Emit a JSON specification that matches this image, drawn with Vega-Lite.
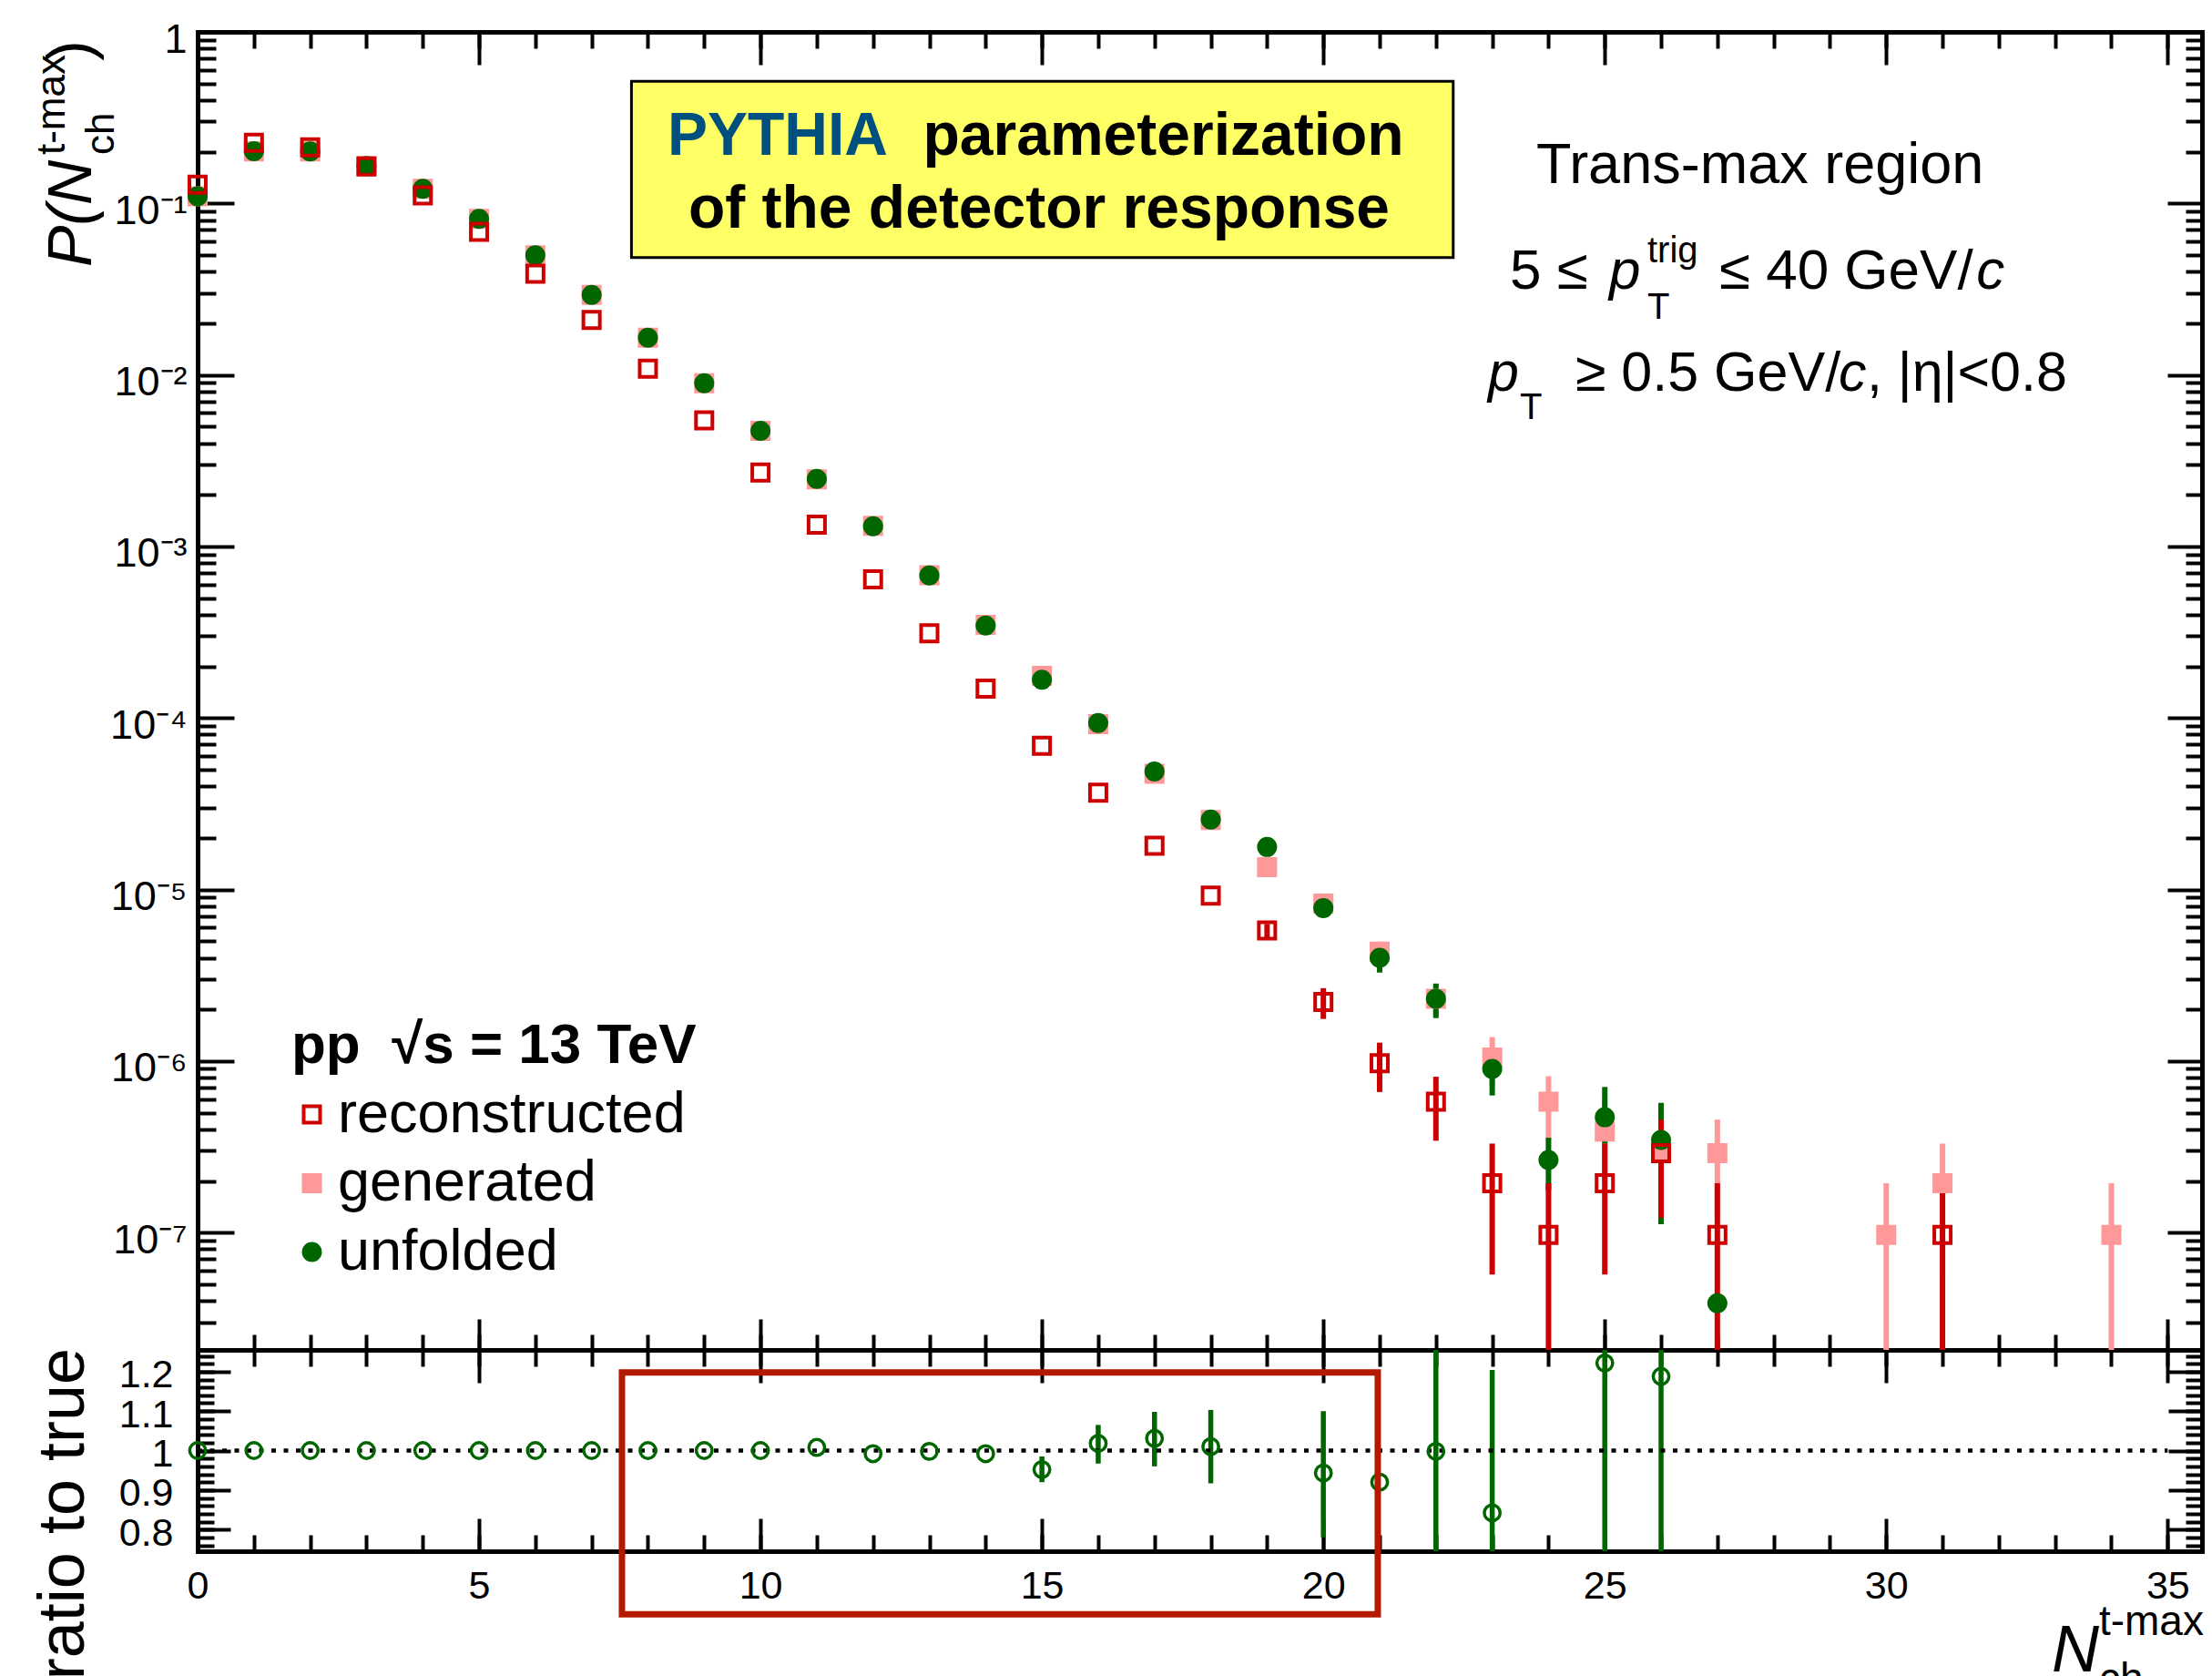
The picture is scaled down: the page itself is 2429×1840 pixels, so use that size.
{
  "$schema": "https://vega.github.io/schema/vega-lite/v6.json",
  "width": 2201,
  "height": 1668,
  "autosize": {"type": "none"},
  "padding": {"left": 217, "top": 35, "right": 11, "bottom": 137},
  "background": "white",
  "config": {
    "view": {"stroke": null},
    "axis": {"grid": false, "domainColor": "black", "domainWidth": 5, "domainCap": "square", "tickColor": "black", "tickWidth": 4, "labelColor": "black", "labelFont": "Liberation Sans", "labelFontSize": 43},
    "text": {"font": "Liberation Sans", "color": "black"}
  },
  "datasets": {
    "dist": [
      {"n": 0, "series": "generated", "p": 0.110},
      {"n": 1, "series": "generated", "p": 0.201},
      {"n": 2, "series": "generated", "p": 0.201},
      {"n": 3, "series": "generated", "p": 0.1654},
      {"n": 4, "series": "generated", "p": 0.1218},
      {"n": 5, "series": "generated", "p": 0.0813},
      {"n": 6, "series": "generated", "p": 0.0498},
      {"n": 7, "series": "generated", "p": 0.0293},
      {"n": 8, "series": "generated", "p": 0.0165},
      {"n": 9, "series": "generated", "p": 0.00895},
      {"n": 10, "series": "generated", "p": 0.00472},
      {"n": 11, "series": "generated", "p": 0.00246},
      {"n": 12, "series": "generated", "p": 0.00132},
      {"n": 13, "series": "generated", "p": 0.000679},
      {"n": 14, "series": "generated", "p": 0.000349},
      {"n": 15, "series": "generated", "p": 0.000176},
      {"n": 16, "series": "generated", "p": 0.000092},
      {"n": 17, "series": "generated", "p": 0.0000473},
      {"n": 18, "series": "generated", "p": 0.0000254},
      {"n": 19, "series": "generated", "p": 1.35e-5, "lo": 1.24e-5, "hi": 1.46e-5},
      {"n": 20, "series": "generated", "p": 8.27e-6, "lo": 7.4e-6, "hi": 9.15e-6},
      {"n": 21, "series": "generated", "p": 4.35e-6, "lo": 3.72e-6, "hi": 4.97e-6},
      {"n": 22, "series": "generated", "p": 2.31e-6, "lo": 1.84e-6, "hi": 2.78e-6},
      {"n": 23, "series": "generated", "p": 1.05e-6, "lo": 7.3e-7, "hi": 1.38e-6},
      {"n": 24, "series": "generated", "p": 5.8e-7, "lo": 3.45e-7, "hi": 8.15e-7},
      {"n": 25, "series": "generated", "p": 3.88e-7, "lo": 1.94e-7, "hi": 5.82e-7},
      {"n": 26, "series": "generated", "p": 2.9e-7, "lo": 1.22e-7, "hi": 4.56e-7},
      {"n": 27, "series": "generated", "p": 2.9e-7, "lo": 1.22e-7, "hi": 4.56e-7},
      {"n": 30, "series": "generated", "p": 9.7e-8, "lo": 1e-9, "hi": 1.94e-7},
      {"n": 31, "series": "generated", "p": 1.94e-7, "lo": 5.7e-8, "hi": 3.3e-7},
      {"n": 34, "series": "generated", "p": 9.7e-8, "lo": 1e-9, "hi": 1.94e-7},
      {"n": 0, "series": "unfolded", "p": 0.110},
      {"n": 1, "series": "unfolded", "p": 0.2013},
      {"n": 2, "series": "unfolded", "p": 0.201},
      {"n": 3, "series": "unfolded", "p": 0.1654},
      {"n": 4, "series": "unfolded", "p": 0.1218},
      {"n": 5, "series": "unfolded", "p": 0.0813},
      {"n": 6, "series": "unfolded", "p": 0.0498},
      {"n": 7, "series": "unfolded", "p": 0.0293},
      {"n": 8, "series": "unfolded", "p": 0.0165},
      {"n": 9, "series": "unfolded", "p": 0.00895},
      {"n": 10, "series": "unfolded", "p": 0.00472},
      {"n": 11, "series": "unfolded", "p": 0.00248},
      {"n": 12, "series": "unfolded", "p": 0.001312},
      {"n": 13, "series": "unfolded", "p": 0.000678},
      {"n": 14, "series": "unfolded", "p": 0.000346},
      {"n": 15, "series": "unfolded", "p": 0.000167},
      {"n": 16, "series": "unfolded", "p": 0.0000935},
      {"n": 17, "series": "unfolded", "p": 0.0000487},
      {"n": 18, "series": "unfolded", "p": 0.0000256},
      {"n": 19, "series": "unfolded", "p": 1.77e-5},
      {"n": 20, "series": "unfolded", "p": 7.8e-6, "lo": 6.9e-6, "hi": 8.7e-6},
      {"n": 21, "series": "unfolded", "p": 4.0e-6, "lo": 3.28e-6, "hi": 4.68e-6},
      {"n": 22, "series": "unfolded", "p": 2.31e-6, "lo": 1.78e-6, "hi": 2.83e-6},
      {"n": 23, "series": "unfolded", "p": 9.0e-7, "lo": 6.3e-7, "hi": 1.15e-6},
      {"n": 24, "series": "unfolded", "p": 2.65e-7, "lo": 1.77e-7, "hi": 3.57e-7},
      {"n": 25, "series": "unfolded", "p": 4.7e-7, "lo": 3.3e-7, "hi": 7.06e-7},
      {"n": 26, "series": "unfolded", "p": 3.47e-7, "lo": 1.12e-7, "hi": 5.7e-7},
      {"n": 27, "series": "unfolded", "p": 3.87e-8},
      {"n": 0, "series": "reconstructed", "p": 0.1285},
      {"n": 1, "series": "reconstructed", "p": 0.2256},
      {"n": 2, "series": "reconstructed", "p": 0.2123},
      {"n": 3, "series": "reconstructed", "p": 0.164},
      {"n": 4, "series": "reconstructed", "p": 0.1114},
      {"n": 5, "series": "reconstructed", "p": 0.0683},
      {"n": 6, "series": "reconstructed", "p": 0.0389},
      {"n": 7, "series": "reconstructed", "p": 0.0209},
      {"n": 8, "series": "reconstructed", "p": 0.01088},
      {"n": 9, "series": "reconstructed", "p": 0.00543},
      {"n": 10, "series": "reconstructed", "p": 0.0027},
      {"n": 11, "series": "reconstructed", "p": 0.00134},
      {"n": 12, "series": "reconstructed", "p": 0.000644},
      {"n": 13, "series": "reconstructed", "p": 0.000312},
      {"n": 14, "series": "reconstructed", "p": 0.0001485},
      {"n": 15, "series": "reconstructed", "p": 0.0000689},
      {"n": 16, "series": "reconstructed", "p": 0.0000367},
      {"n": 17, "series": "reconstructed", "p": 0.000018},
      {"n": 18, "series": "reconstructed", "p": 9.22e-6},
      {"n": 19, "series": "reconstructed", "p": 5.78e-6, "lo": 5.25e-6, "hi": 6.3e-6},
      {"n": 20, "series": "reconstructed", "p": 2.21e-6, "lo": 1.76e-6, "hi": 2.66e-6},
      {"n": 21, "series": "reconstructed", "p": 9.7e-7, "lo": 6.6e-7, "hi": 1.28e-6},
      {"n": 22, "series": "reconstructed", "p": 5.8e-7, "lo": 3.43e-7, "hi": 8.1e-7},
      {"n": 23, "series": "reconstructed", "p": 1.94e-7, "lo": 5.7e-8, "hi": 3.3e-7},
      {"n": 24, "series": "reconstructed", "p": 9.7e-8, "lo": 1e-9, "hi": 1.94e-7},
      {"n": 25, "series": "reconstructed", "p": 1.94e-7, "lo": 5.7e-8, "hi": 3.3e-7},
      {"n": 26, "series": "reconstructed", "p": 2.9e-7, "lo": 1.22e-7, "hi": 4.56e-7},
      {"n": 27, "series": "reconstructed", "p": 9.7e-8, "lo": 1e-9, "hi": 1.94e-7},
      {"n": 31, "series": "reconstructed", "p": 9.7e-8, "lo": 1e-9, "hi": 1.94e-7}
    ],
    "ratio": [
      {"n": 0, "r": 1.0}, {"n": 1, "r": 1.0}, {"n": 2, "r": 1.0}, {"n": 3, "r": 1.0},
      {"n": 4, "r": 1.0}, {"n": 5, "r": 1.0}, {"n": 6, "r": 1.0}, {"n": 7, "r": 1.0},
      {"n": 8, "r": 1.0}, {"n": 9, "r": 1.0}, {"n": 10, "r": 1.0}, {"n": 11, "r": 1.008},
      {"n": 12, "r": 0.992}, {"n": 13, "r": 0.998}, {"n": 14, "r": 0.992},
      {"n": 15, "r": 0.952, "lo": 0.92, "hi": 0.985},
      {"n": 16, "r": 1.018, "lo": 0.967, "hi": 1.065},
      {"n": 17, "r": 1.031, "lo": 0.96, "hi": 1.098},
      {"n": 18, "r": 1.01, "lo": 0.917, "hi": 1.103},
      {"n": 20, "r": 0.943, "lo": 0.78, "hi": 1.1},
      {"n": 21, "r": 0.92},
      {"n": 22, "r": 0.998, "lo": 0.7, "hi": 1.3},
      {"n": 23, "r": 0.842, "lo": 0.48, "hi": 1.204},
      {"n": 25, "r": 1.222, "lo": 0.62, "hi": 1.82},
      {"n": 26, "r": 1.188, "lo": 0.39, "hi": 1.99}
    ]
  },
  "resolve": {"scale": {"y": "independent"}, "axis": {"x": "independent", "y": "independent"}},
  "layer": [
    {
      "data": {"name": "dist"},
      "transform": [{"filter": "datum.series === 'generated' && isValid(datum.lo)"}],
      "mark": {"type": "rule", "color": "#ff9999", "strokeWidth": 6},
      "encoding": {
        "x": {"field": "n", "type": "quantitative", "scale": {"type": "linear", "domain": [0, 35.61], "nice": false, "zero": false},
              "axis": {"orient": "bottom", "values": [0, 5, 10, 15, 20, 25, 30, 35], "tickSize": -36, "labels": false, "domain": true, "title": null}},
        "y": {"field": "lo", "type": "quantitative", "scale": {"type": "log", "domain": [2.07e-8, 1], "range": [1447, 0], "clamp": true, "nice": false},
              "axis": {"orient": "left", "values": [1e-7, 1e-6, 1e-5, 1e-4, 0.001, 0.01, 0.1, 1], "tickSize": -40, "labels": false, "domain": true, "title": null}},
        "y2": {"field": "hi"}
      }
    },
    {
      "data": {"name": "dist"},
      "transform": [{"filter": "datum.series === 'unfolded' && isValid(datum.lo)"}],
      "mark": {"type": "rule", "color": "#006600", "strokeWidth": 6},
      "encoding": {
        "x": {"field": "n", "type": "quantitative", "scale": {"type": "linear", "domain": [0, 35.61], "nice": false, "zero": false},
              "axis": {"orient": "bottom", "values": [0,1,2,3,4,5,6,7,8,9,10,11,12,13,14,15,16,17,18,19,20,21,22,23,24,25,26,27,28,29,30,31,32,33,34,35], "tickSize": -18, "labels": false, "domain": false, "title": null}},
        "y": {"field": "lo", "type": "quantitative", "scale": {"type": "log", "domain": [2.07e-8, 1], "range": [1447, 0], "clamp": true, "nice": false},
              "axis": {"orient": "left", "values": [3e-8,4e-8,5e-8,6e-8,7e-8,8e-8,9e-8,2e-7,3e-7,4e-7,5e-7,6e-7,7e-7,8e-7,9e-7,2e-6,3e-6,4e-6,5e-6,6e-6,7e-6,8e-6,9e-6,2e-5,3e-5,4e-5,5e-5,6e-5,7e-5,8e-5,9e-5,2e-4,3e-4,4e-4,5e-4,6e-4,7e-4,8e-4,9e-4,0.002,0.003,0.004,0.005,0.006,0.007,0.008,0.009,0.02,0.03,0.04,0.05,0.06,0.07,0.08,0.09,0.2,0.3,0.4,0.5,0.6,0.7,0.8,0.9], "tickSize": -20, "labels": false, "domain": false, "title": null}},
        "y2": {"field": "hi"}
      }
    },
    {
      "data": {"name": "dist"},
      "transform": [{"filter": "datum.series === 'reconstructed' && isValid(datum.lo)"}],
      "mark": {"type": "rule", "color": "#cc0000", "strokeWidth": 6},
      "encoding": {
        "x": {"field": "n", "type": "quantitative", "scale": {"type": "linear", "domain": [0, 35.61], "nice": false, "zero": false},
              "axis": {"orient": "bottom", "values": [0, 5, 10, 15, 20, 25, 30, 35], "ticks": false, "domain": false, "labelPadding": 17, "labelFlush": false, "labelOverlap": false, "title": null}},
        "y": {"field": "lo", "type": "quantitative", "scale": {"type": "log", "domain": [2.07e-8, 1], "range": [1447, 0], "clamp": true, "nice": false},
              "axis": {"orient": "left", "values": [1e-7, 1e-6, 1e-5, 1e-4, 0.001, 0.01, 0.1, 1], "ticks": false, "domain": false, "labelPadding": 12, "labelOffset": 8, "labelFontSize": 45, "labelFlush": false, "labelOverlap": false,
                       "labelExpr": "datum.value > 0.5 ? '1' : '10⁻' + ['', '¹', '²', '³', '⁴', '⁵', '⁶', '⁷', '⁸'][round(-log(datum.value) / LN10)]", "title": null}},
        "y2": {"field": "hi"}
      }
    },
    {
      "data": {"name": "dist"},
      "mark": {"type": "point", "filled": true, "opacity": 1, "size": 324, "strokeWidth": 4},
      "encoding": {
        "x": {"field": "n", "type": "quantitative", "scale": {"type": "linear", "domain": [0, 35.61], "nice": false, "zero": false},
              "axis": {"orient": "top", "values": [0, 5, 10, 15, 20, 25, 30, 35], "tickSize": -36, "labels": false, "domain": true, "title": null}},
        "y": {"field": "p", "type": "quantitative", "scale": {"type": "log", "domain": [2.07e-8, 1], "range": [1447, 0], "clamp": true, "nice": false},
              "axis": {"orient": "right", "values": [1e-7, 1e-6, 1e-5, 1e-4, 0.001, 0.01, 0.1, 1], "tickSize": -38, "labels": false, "domain": true, "title": null}},
        "shape": {"field": "series", "type": "nominal",
                  "scale": {"domain": ["reconstructed", "generated", "unfolded"], "range": ["square", "square", "circle"]},
                  "legend": {"orient": "none", "legendX": 103, "legendY": 1083, "title": "pp\u00a0\u00a0√s = 13 TeV", "titleFont": "Liberation Sans", "titleFontSize": 62, "titleFontWeight": "bold", "titleColor": "black", "titlePadding": 12, "titleLimit": 2000, "labelFont": "Liberation Sans", "labelFontSize": 63, "labelColor": "black", "labelLimit": 2000, "rowPadding": 11.5, "symbolOffset": -9, "symbolSize": 324, "labelOffset": -3, "symbolStrokeWidth": 4, "padding": 0, "offset": 0}},
        "fill": {"field": "series", "type": "nominal",
                 "scale": {"domain": ["reconstructed", "generated", "unfolded"], "range": ["transparent", "#ff9999", "#006600"]},
                 "legend": {"orient": "none", "legendX": 103, "legendY": 1083, "title": "pp\u00a0\u00a0√s = 13 TeV", "titleFont": "Liberation Sans", "titleFontSize": 62, "titleFontWeight": "bold", "titleColor": "black", "titlePadding": 12, "titleLimit": 2000, "labelFont": "Liberation Sans", "labelFontSize": 63, "labelColor": "black", "labelLimit": 2000, "rowPadding": 11.5, "symbolOffset": -9, "symbolSize": 324, "labelOffset": -3, "symbolStrokeWidth": 4, "padding": 0, "offset": 0}},
        "stroke": {"field": "series", "type": "nominal",
                   "scale": {"domain": ["reconstructed", "generated", "unfolded"], "range": ["#cc0000", "#ff9999", "#006600"]},
                   "legend": {"orient": "none", "legendX": 103, "legendY": 1083, "title": "pp\u00a0\u00a0√s = 13 TeV", "titleFont": "Liberation Sans", "titleFontSize": 62, "titleFontWeight": "bold", "titleColor": "black", "titlePadding": 12, "titleLimit": 2000, "labelFont": "Liberation Sans", "labelFontSize": 63, "labelColor": "black", "labelLimit": 2000, "rowPadding": 11.5, "symbolOffset": -9, "symbolSize": 324, "labelOffset": -3, "symbolStrokeWidth": 4, "padding": 0, "offset": 0}}
      }
    },
    {
      "data": {"values": [{}]},
      "mark": {"type": "rect", "fill": "#ffff66", "stroke": "black", "strokeWidth": 3},
      "encoding": {
        "x": {"datum": 7.708, "type": "quantitative", "scale": {"type": "linear", "domain": [0, 35.61], "nice": false, "zero": false},
              "axis": {"orient": "top", "values": [0,1,2,3,4,5,6,7,8,9,10,11,12,13,14,15,16,17,18,19,20,21,22,23,24,25,26,27,28,29,30,31,32,33,34,35], "tickSize": -18, "labels": false, "domain": false, "title": null}},
        "x2": {"datum": 22.307},
        "y": {"datum": 0.5148, "type": "quantitative", "scale": {"type": "log", "domain": [2.07e-8, 1], "range": [1447, 0], "clamp": true, "nice": false},
              "axis": {"orient": "right", "values": [3e-8,4e-8,5e-8,6e-8,7e-8,8e-8,9e-8,2e-7,3e-7,4e-7,5e-7,6e-7,7e-7,8e-7,9e-7,2e-6,3e-6,4e-6,5e-6,6e-6,7e-6,8e-6,9e-6,2e-5,3e-5,4e-5,5e-5,6e-5,7e-5,8e-5,9e-5,2e-4,3e-4,4e-4,5e-4,6e-4,7e-4,8e-4,9e-4,0.002,0.003,0.004,0.005,0.006,0.007,0.008,0.009,0.02,0.03,0.04,0.05,0.06,0.07,0.08,0.09,0.2,0.3,0.4,0.5,0.6,0.7,0.8,0.9], "tickSize": -18, "labels": false, "domain": false, "title": null}},
        "y2": {"datum": 0.04836}
      }
    },
    {
      "data": {"name": "ratio"},
      "transform": [{"filter": "isValid(datum.lo)"}],
      "mark": {"type": "rule", "color": "#006600", "strokeWidth": 5.5},
      "encoding": {
        "x": {"field": "n", "type": "quantitative", "scale": {"type": "linear", "domain": [0, 35.61], "nice": false, "zero": false},
              "axis": {"orient": "bottom", "offset": -221, "values": [0, 5, 10, 15, 20, 25, 30, 35], "tickSize": 36, "labels": false, "domain": true, "title": null}},
        "y": {"field": "lo", "type": "quantitative", "scale": {"type": "linear", "domain": [0.745, 1.255], "range": [1668, 1447], "clamp": true, "nice": false, "zero": false},
              "axis": {"orient": "left", "values": [0.8, 0.9, 1, 1.1, 1.2], "tickSize": -36, "labels": false, "domain": true, "title": null}},
        "y2": {"field": "hi"}
      }
    },
    {
      "data": {"values": [{}]},
      "mark": {"type": "rule", "color": "black", "strokeWidth": 4.5, "strokeDash": [5, 8.5]},
      "encoding": {
        "x": {"datum": 0, "type": "quantitative", "scale": {"type": "linear", "domain": [0, 35.61], "nice": false, "zero": false},
              "axis": {"orient": "bottom", "offset": -221, "values": [0,1,2,3,4,5,6,7,8,9,10,11,12,13,14,15,16,17,18,19,20,21,22,23,24,25,26,27,28,29,30,31,32,33,34,35], "tickSize": 18, "labels": false, "domain": false, "title": null}},
        "x2": {"datum": 35},
        "y": {"datum": 1, "type": "quantitative", "scale": {"type": "linear", "domain": [0.745, 1.255], "range": [1668, 1447], "clamp": true, "nice": false, "zero": false},
              "axis": {"orient": "left", "values": [0.76,0.78,0.8,0.82,0.84,0.86,0.88,0.9,0.92,0.94,0.96,0.98,1,1.02,1.04,1.06,1.08,1.1,1.12,1.14,1.16,1.18,1.2,1.22,1.24], "tickSize": -18, "labels": false, "domain": false, "title": null}}
      }
    },
    {
      "data": {"name": "ratio"},
      "mark": {"type": "point", "shape": "circle", "filled": false, "opacity": 1, "size": 300, "stroke": "#006600", "strokeWidth": 3.5},
      "encoding": {
        "x": {"field": "n", "type": "quantitative", "scale": {"type": "linear", "domain": [0, 35.61], "nice": false, "zero": false},
              "axis": {"orient": "bottom", "offset": -221, "values": [0, 5, 10, 15, 20, 25, 30, 35], "tickSize": -34, "labels": false, "domain": false, "title": null}},
        "y": {"field": "r", "type": "quantitative", "scale": {"type": "linear", "domain": [0.745, 1.255], "range": [1668, 1447], "clamp": true, "nice": false, "zero": false},
              "axis": {"orient": "left", "values": [0.8, 0.9, 1, 1.1, 1.2], "ticks": false, "domain": false, "labelPadding": 27, "labelOffset": 4, "labelFlush": false, "labelOverlap": false, "labelExpr": "format(datum.value, '.1~f')", "title": null}}
      }
    },
    {
      "data": {"values": [{}]},
      "mark": {"type": "rect", "fill": "transparent", "stroke": "#b41800", "strokeWidth": 7},
      "encoding": {
        "x": {"datum": 7.539, "type": "quantitative", "scale": {"type": "linear", "domain": [0, 35.61], "nice": false, "zero": false},
              "axis": {"orient": "bottom", "offset": -221, "values": [0,1,2,3,4,5,6,7,8,9,10,11,12,13,14,15,16,17,18,19,20,21,22,23,24,25,26,27,28,29,30,31,32,33,34,35], "tickSize": -17, "labels": false, "domain": false, "title": null}},
        "x2": {"datum": 20.967},
        "y": {"datum": 1.198, "type": "quantitative", "scale": {"type": "linear", "domain": [0.745, 1.255], "range": [1668, 1447], "nice": false, "zero": false},
              "axis": {"orient": "right", "values": [0.8, 0.9, 1, 1.1, 1.2], "tickSize": -37, "labels": false, "domain": true, "title": null}},
        "y2": {"datum": 0.585}
      }
    },
    {
      "data": {"values": [{}]},
      "mark": {"type": "text", "text": "N", "fontSize": 72, "fontStyle": "italic", "align": "left", "baseline": "alphabetic"},
      "encoding": {
        "x": {"datum": 32.94, "type": "quantitative", "scale": {"type": "linear", "domain": [0, 35.61], "nice": false, "zero": false}, "axis": null},
        "y": {"datum": 0.4404, "type": "quantitative", "scale": {"type": "linear", "domain": [0.745, 1.255], "range": [1668, 1447], "nice": false, "zero": false},
              "axis": {"orient": "right", "values": [0.76,0.78,0.8,0.82,0.84,0.86,0.88,0.9,0.92,0.94,0.96,0.98,1,1.02,1.04,1.06,1.08,1.1,1.12,1.14,1.16,1.18,1.2,1.22,1.24], "tickSize": -18, "labels": false, "domain": false, "title": null}}
      }
    },
    {
      "data": {"values": [{}]},
      "mark": {"type": "text", "text": "t-max", "fontSize": 46, "align": "left", "baseline": "alphabetic"},
      "encoding": {
        "x": {"datum": 33.78, "type": "quantitative", "scale": {"type": "linear", "domain": [0, 35.61], "nice": false, "zero": false}, "axis": null},
        "y": {"datum": 0.5327, "type": "quantitative", "scale": {"type": "linear", "domain": [0.745, 1.255], "range": [1668, 1447], "nice": false, "zero": false}, "axis": null}
      }
    },
    {
      "data": {"values": [{}]},
      "mark": {"type": "text", "text": "ch", "fontSize": 46, "align": "left", "baseline": "alphabetic"},
      "encoding": {
        "x": {"datum": 33.78, "type": "quantitative", "scale": {"type": "linear", "domain": [0, 35.61], "nice": false, "zero": false}, "axis": null},
        "y": {"datum": 0.3873, "type": "quantitative", "scale": {"type": "linear", "domain": [0.745, 1.255], "range": [1668, 1447], "nice": false, "zero": false}, "axis": null}
      }
    },
    {
      "data": {"values": [{}]},
      "mark": {"type": "text", "text": "ratio to true", "fontSize": 72, "angle": 270, "align": "right", "baseline": "alphabetic"},
      "encoding": {
        "x": {"datum": -2.022, "type": "quantitative", "scale": {"type": "linear", "domain": [0, 35.61], "nice": false, "zero": false}, "axis": null},
        "y": {"datum": 1.2597, "type": "quantitative", "scale": {"type": "linear", "domain": [0.745, 1.255], "range": [1668, 1447], "nice": false, "zero": false}, "axis": null}
      }
    },
    {
      "data": {"values": [{}]},
      "mark": {"type": "text", "text": "P(N", "fontSize": 68, "fontStyle": "italic", "angle": 270, "align": "left", "baseline": "alphabetic"},
      "encoding": {
        "x": {"datum": -1.893, "type": "quantitative", "scale": {"type": "linear", "domain": [0, 35.61], "nice": false, "zero": false}, "axis": null},
        "y": {"datum": 0.04265, "type": "quantitative", "scale": {"type": "log", "domain": [2.07e-8, 1], "range": [1447, 0], "nice": false}, "axis": null}
      }
    },
    {
      "data": {"values": [{}]},
      "mark": {"type": "text", "text": "t-max", "fontSize": 44, "angle": 270, "align": "left", "baseline": "alphabetic"},
      "encoding": {
        "x": {"datum": -2.362, "type": "quantitative", "scale": {"type": "linear", "domain": [0, 35.61], "nice": false, "zero": false}, "axis": null},
        "y": {"datum": 0.1919, "type": "quantitative", "scale": {"type": "log", "domain": [2.07e-8, 1], "range": [1447, 0], "nice": false}, "axis": null}
      }
    },
    {
      "data": {"values": [{}]},
      "mark": {"type": "text", "text": "ch", "fontSize": 44, "angle": 270, "align": "left", "baseline": "alphabetic"},
      "encoding": {
        "x": {"datum": -1.488, "type": "quantitative", "scale": {"type": "linear", "domain": [0, 35.61], "nice": false, "zero": false}, "axis": null},
        "y": {"datum": 0.1919, "type": "quantitative", "scale": {"type": "log", "domain": [2.07e-8, 1], "range": [1447, 0], "nice": false}, "axis": null}
      }
    },
    {
      "data": {"values": [{}]},
      "mark": {"type": "text", "text": ")", "fontSize": 68, "angle": 270, "align": "left", "baseline": "alphabetic"},
      "encoding": {
        "x": {"datum": -1.893, "type": "quantitative", "scale": {"type": "linear", "domain": [0, 35.61], "nice": false, "zero": false}, "axis": null},
        "y": {"datum": 0.6762, "type": "quantitative", "scale": {"type": "log", "domain": [2.07e-8, 1], "range": [1447, 0], "nice": false}, "axis": null}
      }
    },
    {
      "data": {"values": [{}]},
      "mark": {"type": "text", "text": "PYTHIA", "fontSize": 66, "fontWeight": "bold", "color": "#00507f", "align": "left", "baseline": "alphabetic"},
      "encoding": {
        "x": {"datum": 8.348, "type": "quantitative", "scale": {"type": "linear", "domain": [0, 35.61], "nice": false, "zero": false}, "axis": null},
        "y": {"datum": 0.1919, "type": "quantitative", "scale": {"type": "log", "domain": [2.07e-8, 1], "range": [1447, 0], "nice": false}, "axis": null}
      }
    },
    {
      "data": {"values": [{}]},
      "mark": {"type": "text", "text": "parameterization", "fontSize": 66, "fontWeight": "bold", "align": "left", "baseline": "alphabetic"},
      "encoding": {
        "x": {"datum": 12.886, "type": "quantitative", "scale": {"type": "linear", "domain": [0, 35.61], "nice": false, "zero": false}, "axis": null},
        "y": {"datum": 0.1919, "type": "quantitative", "scale": {"type": "log", "domain": [2.07e-8, 1], "range": [1447, 0], "nice": false}, "axis": null}
      }
    },
    {
      "data": {"values": [{}]},
      "mark": {"type": "text", "text": "of the detector response", "fontSize": 66, "fontWeight": "bold", "align": "center", "baseline": "alphabetic"},
      "encoding": {
        "x": {"datum": 14.949, "type": "quantitative", "scale": {"type": "linear", "domain": [0, 35.61], "nice": false, "zero": false}, "axis": null},
        "y": {"datum": 0.07216, "type": "quantitative", "scale": {"type": "log", "domain": [2.07e-8, 1], "range": [1447, 0], "nice": false}, "axis": null}
      }
    },
    {
      "data": {"values": [{}]},
      "mark": {"type": "text", "text": "Trans-max region", "fontSize": 63, "align": "left", "baseline": "alphabetic"},
      "encoding": {
        "x": {"datum": 23.783, "type": "quantitative", "scale": {"type": "linear", "domain": [0, 35.61], "nice": false, "zero": false}, "axis": null},
        "y": {"datum": 0.1314, "type": "quantitative", "scale": {"type": "log", "domain": [2.07e-8, 1], "range": [1447, 0], "nice": false}, "axis": null}
      }
    },
    {
      "data": {"values": [{}]},
      "mark": {"type": "text", "text": "5 ≤", "fontSize": 62, "align": "left", "baseline": "alphabetic"},
      "encoding": {
        "x": {"datum": 23.313, "type": "quantitative", "scale": {"type": "linear", "domain": [0, 35.61], "nice": false, "zero": false}, "axis": null},
        "y": {"datum": 0.0318, "type": "quantitative", "scale": {"type": "log", "domain": [2.07e-8, 1], "range": [1447, 0], "nice": false}, "axis": null}
      }
    },
    {
      "data": {"values": [{}]},
      "mark": {"type": "text", "text": "p", "fontSize": 62, "fontStyle": "italic", "align": "left", "baseline": "alphabetic"},
      "encoding": {
        "x": {"datum": 25.077, "type": "quantitative", "scale": {"type": "linear", "domain": [0, 35.61], "nice": false, "zero": false}, "axis": null},
        "y": {"datum": 0.0318, "type": "quantitative", "scale": {"type": "log", "domain": [2.07e-8, 1], "range": [1447, 0], "nice": false}, "axis": null}
      }
    },
    {
      "data": {"values": [{}]},
      "mark": {"type": "text", "text": "trig", "fontSize": 40, "align": "left", "baseline": "alphabetic"},
      "encoding": {
        "x": {"datum": 25.757, "type": "quantitative", "scale": {"type": "linear", "domain": [0, 35.61], "nice": false, "zero": false}, "axis": null},
        "y": {"datum": 0.04534, "type": "quantitative", "scale": {"type": "log", "domain": [2.07e-8, 1], "range": [1447, 0], "nice": false}, "axis": null}
      }
    },
    {
      "data": {"values": [{}]},
      "mark": {"type": "text", "text": "T", "fontSize": 40, "align": "left", "baseline": "alphabetic"},
      "encoding": {
        "x": {"datum": 25.757, "type": "quantitative", "scale": {"type": "linear", "domain": [0, 35.61], "nice": false, "zero": false}, "axis": null},
        "y": {"datum": 0.02124, "type": "quantitative", "scale": {"type": "log", "domain": [2.07e-8, 1], "range": [1447, 0], "nice": false}, "axis": null}
      }
    },
    {
      "data": {"values": [{}]},
      "mark": {"type": "text", "text": "≤ 40 GeV/", "fontSize": 62, "align": "left", "baseline": "alphabetic"},
      "encoding": {
        "x": {"datum": 27.034, "type": "quantitative", "scale": {"type": "linear", "domain": [0, 35.61], "nice": false, "zero": false}, "axis": null},
        "y": {"datum": 0.0318, "type": "quantitative", "scale": {"type": "log", "domain": [2.07e-8, 1], "range": [1447, 0], "nice": false}, "axis": null}
      }
    },
    {
      "data": {"values": [{}]},
      "mark": {"type": "text", "text": "c", "fontSize": 62, "fontStyle": "italic", "align": "left", "baseline": "alphabetic"},
      "encoding": {
        "x": {"datum": 31.6, "type": "quantitative", "scale": {"type": "linear", "domain": [0, 35.61], "nice": false, "zero": false}, "axis": null},
        "y": {"datum": 0.0318, "type": "quantitative", "scale": {"type": "log", "domain": [2.07e-8, 1], "range": [1447, 0], "nice": false}, "axis": null}
      }
    },
    {
      "data": {"values": [{}]},
      "mark": {"type": "text", "text": "p", "fontSize": 61, "fontStyle": "italic", "align": "left", "baseline": "alphabetic"},
      "encoding": {
        "x": {"datum": 22.925, "type": "quantitative", "scale": {"type": "linear", "domain": [0, 35.61], "nice": false, "zero": false}, "axis": null},
        "y": {"datum": 0.008086, "type": "quantitative", "scale": {"type": "log", "domain": [2.07e-8, 1], "range": [1447, 0], "nice": false}, "axis": null}
      }
    },
    {
      "data": {"values": [{}]},
      "mark": {"type": "text", "text": "T", "fontSize": 40, "align": "left", "baseline": "alphabetic"},
      "encoding": {
        "x": {"datum": 23.491, "type": "quantitative", "scale": {"type": "linear", "domain": [0, 35.61], "nice": false, "zero": false}, "axis": null},
        "y": {"datum": 0.005535, "type": "quantitative", "scale": {"type": "log", "domain": [2.07e-8, 1], "range": [1447, 0], "nice": false}, "axis": null}
      }
    },
    {
      "data": {"values": [{}]},
      "mark": {"type": "text", "text": "≥ 0.5 GeV/", "fontSize": 61, "align": "left", "baseline": "alphabetic"},
      "encoding": {
        "x": {"datum": 24.478, "type": "quantitative", "scale": {"type": "linear", "domain": [0, 35.61], "nice": false, "zero": false}, "axis": null},
        "y": {"datum": 0.008086, "type": "quantitative", "scale": {"type": "log", "domain": [2.07e-8, 1], "range": [1447, 0], "nice": false}, "axis": null}
      }
    },
    {
      "data": {"values": [{}]},
      "mark": {"type": "text", "text": "c", "fontSize": 61, "fontStyle": "italic", "align": "left", "baseline": "alphabetic"},
      "encoding": {
        "x": {"datum": 29.154, "type": "quantitative", "scale": {"type": "linear", "domain": [0, 35.61], "nice": false, "zero": false}, "axis": null},
        "y": {"datum": 0.008086, "type": "quantitative", "scale": {"type": "log", "domain": [2.07e-8, 1], "range": [1447, 0], "nice": false}, "axis": null}
      }
    },
    {
      "data": {"values": [{}]},
      "mark": {"type": "text", "text": ", |η|<0.8", "fontSize": 61, "align": "left", "baseline": "alphabetic"},
      "encoding": {
        "x": {"datum": 29.655, "type": "quantitative", "scale": {"type": "linear", "domain": [0, 35.61], "nice": false, "zero": false}, "axis": null},
        "y": {"datum": 0.008086, "type": "quantitative", "scale": {"type": "log", "domain": [2.07e-8, 1], "range": [1447, 0], "nice": false}, "axis": null}
      }
    }
  ]
}
